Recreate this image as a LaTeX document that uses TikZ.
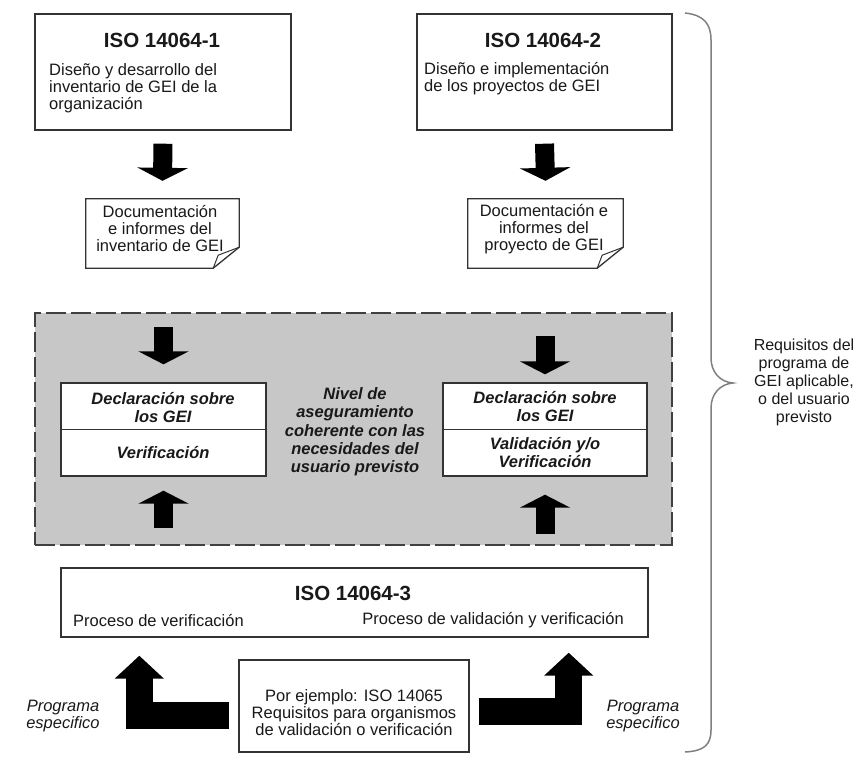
\documentclass[tikz,border=0pt]{standalone}
\usepackage{fontspec}
\setmainfont{Liberation Sans}
\usetikzlibrary{arrows.meta,calc}

\begin{document}
\begin{tikzpicture}[x=1pt, y=-1pt,
    box/.style={draw=black!80, line width=1.4pt, fill=white, inner sep=0pt},
    txt/.style={font=\fontsize{16.5}{17}\selectfont, text=black!90, inner sep=0pt},
    ttl/.style={font=\fontsize{20.5}{22}\selectfont\bfseries, text=black!90, inner sep=0pt},
    bit/.style={font=\fontsize{16.5}{18}\selectfont\bfseries\itshape, text=black!90, inner sep=0pt, align=center},
    blk/.style={line width=19pt, -{Triangle[width=50pt,length=13pt]}},
    lblk/.style={line width=27pt, -{Triangle[width=48pt,length=23pt]}}]
    \useasboundingbox (0,0) rectangle (857,758);
    % normas de partida
    \node[box, minimum width=256pt, minimum height=116pt] (iso1) at (163,72) {};
    \node[ttl] (iso1t) at (162,40) {ISO 14064-1};
    \node[txt, anchor=west, align=left] (iso1b) at (49,88) {Diseño y desarrollo del\\inventario de GEI de la\\organización};
    \node[box, minimum width=255pt, minimum height=116pt] (iso2) at (544.5,72) {};
    \node[ttl] (iso2t) at (543,40) {ISO 14064-2};
    \node[txt, anchor=west, align=left] (iso2b) at (424,79) {Diseño e implementación\\de los proyectos de GEI};
    % documentos
    \node[inner sep=0pt, minimum width=153pt, minimum height=69pt] (doc1) at (162.5,233.5) {};
    \node[inner sep=0pt, minimum width=155pt, minimum height=69pt] (doc2) at (545.5,233.5) {};
    \foreach \d in {doc1,doc2} {
        \draw[line width=1.3pt, draw=black!80, fill=white] (\d.north west) -- (\d.north east) -- ($(\d.south east)+(0,-21)$) -- ($(\d.south east)+(-26,0)$) -- (\d.south west) -- cycle;
        \draw[line width=1pt, draw=black!80] ($(\d.south east)+(0,-21)$) -- ($(\d.south east)+(-21,-13)$) -- ($(\d.south east)+(-26,0)$);
    }
    \node[txt, align=center] (doc1t) at (160,229) {Documentación\\e informes del\\inventario de GEI};
    \node[txt, align=center] (doc2t) at (544,229) {Documentación e\\informes del\\proyecto de GEI};
    \draw[blk] ($(iso1.south)+(0,13)$) -- ($(doc1.north)+(0,-18)$);
    \draw[blk] ($(iso2.south)+(0,13)$) -- ($(doc2.north)+(0,-18)$);
    % zona de aseguramiento
    \node[draw=black!75, line width=2pt, dash pattern=on 20pt off 5pt, fill=black!22, minimum width=637pt, minimum height=232pt] (zone) at (353.5,429) {};
    \node[box, minimum width=205pt, minimum height=93pt] (decl1) at (163.5,429.5) {};
    \draw[line width=1.4pt, draw=black!80] (decl1.west) -- (decl1.east);
    \node[bit] (decl1a) at (163,408) {Declaración sobre\\los GEI};
    \node[bit] (decl1b) at (163,453) {Verificación};
    \node[box, minimum width=204pt, minimum height=93pt] (decl2) at (545,429.5) {};
    \draw[line width=1.4pt, draw=black!80] (decl2.west) -- (decl2.east);
    \node[bit] (decl2a) at (545,407) {Declaración sobre\\los GEI};
    \node[bit] (decl2b) at (545,453) {Validación y/o\\Verificación};
    \node[bit, font=\fontsize{16.5}{18.3}\selectfont\bfseries\itshape] (nivel) at (355,432) {Nivel de\\aseguramiento\\coherente con las\\necesidades del\\usuario previsto};
    \draw[blk] ($(decl1.north |- zone.north)+(0,15)$) -- ($(decl1.north)+(0,-18)$);
    \draw[blk] ($(decl1.south |- zone.south)+(0,-18)$) -- ($(decl1.south)+(0,14)$);
    \draw[blk] ($(decl2.north |- zone.north)+(0,24)$) -- ($(decl2.north)+(0,-8)$);
    \draw[blk] ($(decl2.south |- zone.south)+(0,-12)$) -- ($(decl2.south)+(0,18)$);
    % ISO 14064-3 y programas
    \node[box, minimum width=587pt, minimum height=69pt] (iso3) at (354.5,602.5) {};
    \node[ttl] (iso3t) at (353,593) {ISO 14064-3};
    \node[txt, anchor=west] (verif) at (73,620) {Proceso de verificación};
    \node[txt, anchor=east] (valid) at (624,620) {Proceso de validación y verificación};
    \node[box, minimum width=230pt, minimum height=92pt] (ex) at (354,706) {};
    \node[txt, align=center] (ext) at (354,713) {Por ejemplo: ISO 14065\\Requisitos para organismos\\de validación o verificación};
    \draw[lblk] ($(ex.west)+(-9,9.5)$) -| ($(iso3.south west)+(79,18)$);
    \draw[lblk] ($(ex.east)+(9,5)$) -| ($(iso3.south east)+(-80,15)$);
    \node[txt, font=\fontsize{16.5}{17}\selectfont\itshape, align=center] (prog1) at (63,716) {Programa\\especifico};
    \node[txt, font=\fontsize{16.5}{17}\selectfont\itshape, align=center] (prog2) at (643,716) {Programa\\especifico};
    % llave y requisitos
    \draw[black!50, line width=1.5pt] (685,13) .. controls (704,15) and (711,24) .. (711,40) -- (711,358)
        .. controls (711,372) and (720,382) .. (733,383) .. controls (720,384) and (711,394) .. (711,408)
        -- (711,730) .. controls (711,745) and (704,751) .. (685,752);
    \node[txt, font=\fontsize{16}{18}\selectfont, align=center] (req) at (804,382) {Requisitos del\\programa de\\GEI aplicable,\\o del usuario\\previsto};
\end{tikzpicture}
\end{document}
